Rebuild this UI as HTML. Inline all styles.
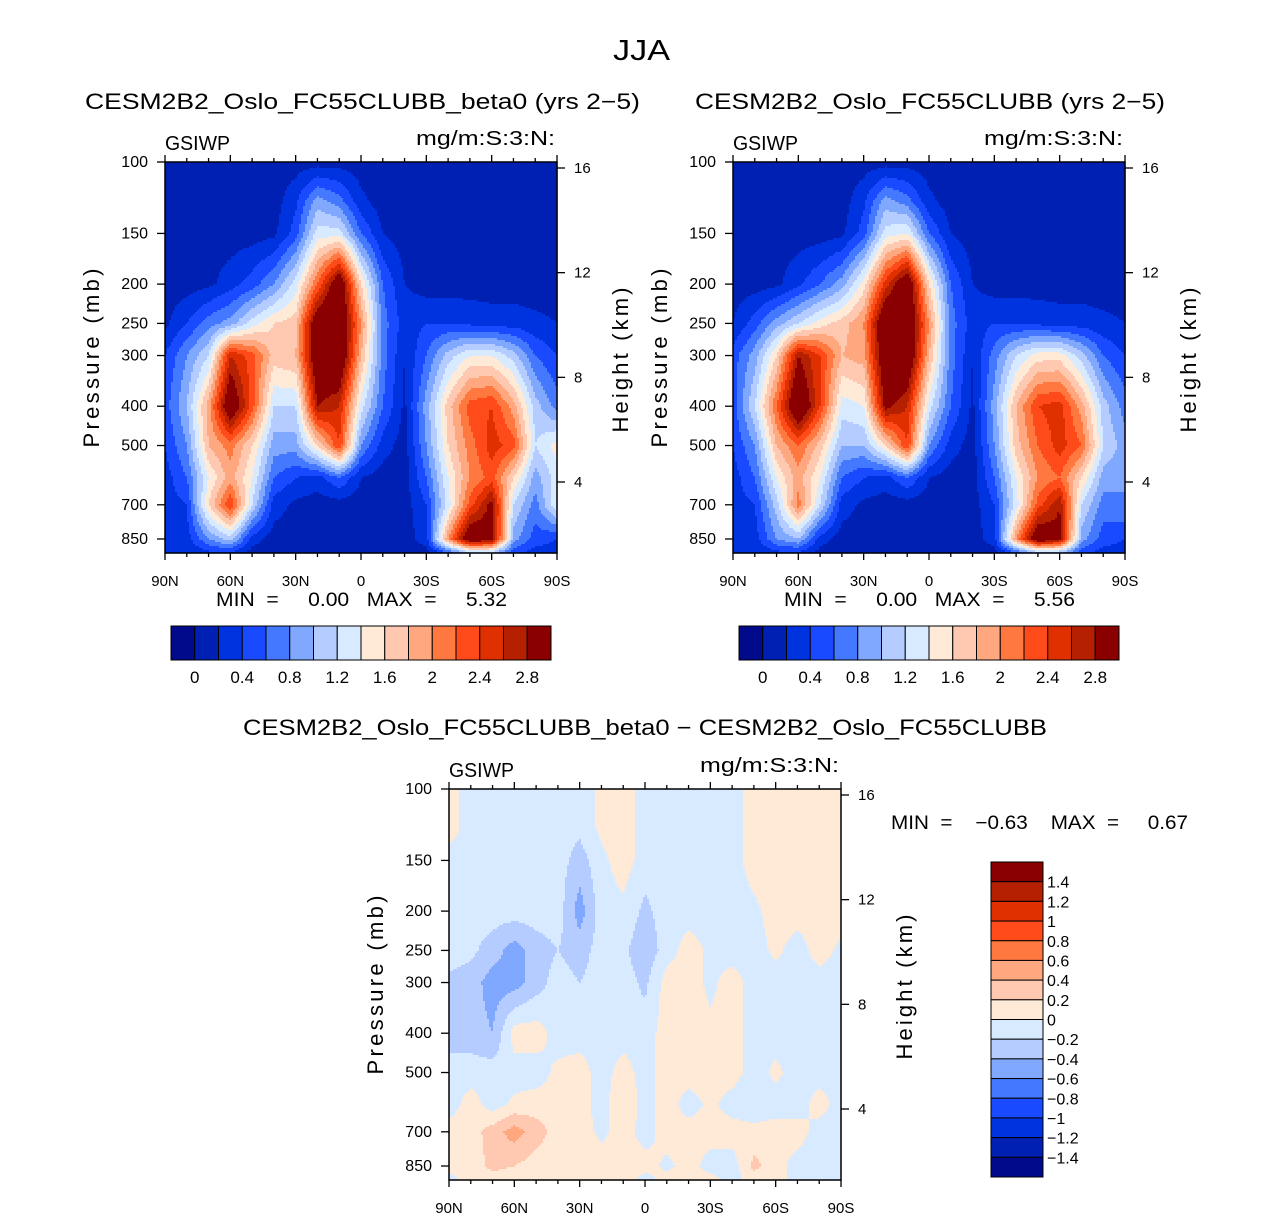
<!DOCTYPE html>
<html><head><meta charset="utf-8"><style>
body{margin:0;background:#fff;}
svg{display:block;font-family:"Liberation Sans",sans-serif;}
</style></head><body>
<svg id="fig" width="1285" height="1219" viewBox="0 0 1285 1219">
<text x="613" y="60" font-size="29" textLength="57" lengthAdjust="spacingAndGlyphs">JJA</text>
<g id="p1"></g>
<g id="p2"></g>
<g id="p3"></g>
</svg>
<script>
const LATS=[90,80,70,60,50,40,30,20,10,0,-10,-20,-30,-40,-50,-60,-70,-80,-90];
const PLEV=[100,125,150,200,250,300,400,500,600,700,850,925];
const FIELD1=[
[0.1,0.1,0.1,0.1,0.1,0.1,0.1,0.1,0.1,0.1,0.1,0.1,0.1,0.1,0.1,0.1,0.1,0.1,0.1],
[0.1,0.1,0.1,0.1,0.1,0.1,0.35,0.9,0.7,0.25,0.1,0.1,0.1,0.1,0.1,0.1,0.1,0.1,0.1],
[0.1,0.1,0.1,0.1,0.1,0.15,0.5,1.3,1.3,0.6,0.2,0.1,0.1,0.1,0.1,0.1,0.1,0.1,0.1],
[0.1,0.1,0.15,0.3,0.5,0.8,1.3,2.2,3.2,1.6,0.6,0.2,0.1,0.1,0.1,0.1,0.1,0.1,0.1],
[0.15,0.4,0.7,0.9,1.3,1.6,1.7,3.2,3.3,2.0,0.7,0.3,0.4,0.4,0.35,0.3,0.3,0.25,0.2],
[0.4,0.8,1.2,2.6,2.3,1.7,1.8,3.2,3.3,1.8,0.7,0.2,0.6,1.1,1.4,1.4,1.1,0.6,0.4],
[0.5,1.0,1.9,3.2,2.3,1.2,1.2,2.8,2.6,1.3,0.6,0.15,0.9,1.7,2.3,2.4,1.9,1.1,0.7],
[0.4,0.8,1.8,2.1,1.6,0.9,0.9,1.6,2.4,0.8,0.3,0.1,0.8,1.6,2.1,2.5,2.3,1.2,1.5],
[0.3,0.6,1.4,1.9,1.4,0.6,0.4,0.3,0.6,0.2,0.1,0.1,0.6,1.4,2.0,2.3,1.6,0.9,1.3],
[0.3,0.4,1.6,2.4,1.2,0.3,0.15,0.1,0.1,0.1,0.1,0.1,0.4,1.3,2.3,2.9,1.2,0.7,1.4],
[0.3,0.3,0.8,1.1,0.3,0.1,0.1,0.1,0.1,0.1,0.1,0.1,0.3,2.0,3.2,3.0,0.9,0.5,0.4],
[0.2,0.2,0.3,0.3,0.1,0.1,0.1,0.1,0.1,0.1,0.1,0.1,0.1,0.4,0.9,0.9,0.4,0.3,0.3]];
const FIELD2=[
[0.1,0.1,0.1,0.1,0.1,0.1,0.1,0.1,0.1,0.1,0.1,0.1,0.1,0.1,0.1,0.1,0.1,0.1,0.1],
[0.1,0.1,0.1,0.1,0.1,0.1,0.35,0.9,0.7,0.25,0.1,0.1,0.1,0.1,0.1,0.1,0.1,0.1,0.1],
[0.1,0.1,0.1,0.1,0.1,0.15,0.5,1.3,1.4,0.6,0.2,0.1,0.1,0.1,0.1,0.1,0.1,0.1,0.1],
[0.1,0.1,0.15,0.35,0.6,0.9,1.5,2.5,3.2,1.6,0.6,0.2,0.1,0.1,0.1,0.1,0.1,0.1,0.1],
[0.2,0.5,0.9,1.2,1.5,1.7,2.0,3.3,3.3,2.0,0.7,0.3,0.4,0.4,0.35,0.3,0.3,0.25,0.2],
[0.5,0.9,1.6,2.8,2.4,1.8,1.9,3.2,3.3,1.8,0.7,0.2,0.7,1.2,1.5,1.5,1.1,0.6,0.4],
[0.5,1.2,2.2,3.3,2.4,1.3,1.4,2.9,2.6,1.3,0.6,0.15,0.9,1.8,2.4,2.5,1.9,1.1,0.7],
[0.4,0.8,1.8,2.2,1.7,1.0,1.0,1.6,2.4,0.8,0.3,0.1,0.8,1.7,2.2,2.5,2.2,1.2,0.9],
[0.3,0.6,1.4,1.9,1.4,0.6,0.4,0.3,0.6,0.2,0.1,0.1,0.6,1.4,2.0,2.2,1.6,0.9,0.8],
[0.3,0.4,1.1,2.1,1.2,0.3,0.15,0.1,0.1,0.1,0.1,0.1,0.4,1.3,2.3,2.8,1.2,0.7,0.8],
[0.3,0.3,0.8,1.0,0.3,0.1,0.1,0.1,0.1,0.1,0.1,0.1,0.3,2.0,3.2,2.9,0.9,0.5,0.4],
[0.2,0.2,0.3,0.3,0.1,0.1,0.1,0.1,0.1,0.1,0.1,0.1,0.1,0.4,0.8,0.8,0.4,0.3,0.3]];
const FIELD3=[
[0.1,-0.1,-0.1,-0.1,-0.1,-0.1,-0.1,0.05,0.1,-0.1,-0.1,-0.1,-0.1,-0.1,0.1,0.1,0.1,0.1,0.1],
[0.1,-0.1,-0.1,-0.1,-0.1,-0.1,-0.15,0.05,0.1,-0.1,-0.1,-0.1,-0.1,-0.1,0.1,0.1,0.1,0.1,0.1],
[-0.1,-0.1,-0.1,-0.1,-0.1,-0.1,-0.3,-0.05,0.1,-0.1,-0.1,-0.1,-0.1,-0.1,0.1,0.1,0.1,0.1,0.1],
[-0.1,-0.1,-0.1,-0.1,-0.1,-0.1,-0.5,-0.1,-0.05,-0.25,-0.1,-0.1,-0.1,-0.1,-0.05,0.1,0.1,0.1,0.1],
[-0.1,-0.15,-0.3,-0.5,-0.3,-0.2,-0.3,-0.1,-0.15,-0.35,-0.1,0.1,-0.05,-0.1,-0.1,0.05,-0.1,0.1,-0.05],
[-0.25,-0.3,-0.5,-0.5,-0.3,-0.1,-0.2,-0.1,-0.1,-0.25,0.1,0.1,-0.05,0.1,-0.1,-0.1,-0.1,-0.1,-0.1],
[-0.3,-0.3,-0.4,0.1,0.1,-0.1,-0.1,-0.1,-0.1,-0.1,0.1,0.1,0.05,0.1,-0.1,-0.1,-0.1,-0.1,-0.1],
[-0.1,-0.1,-0.1,-0.1,-0.1,0.05,0.1,-0.1,0.1,-0.1,0.1,0.1,0.1,0.1,-0.1,0.05,-0.1,-0.1,-0.1],
[-0.1,0.1,-0.1,0.05,0.1,0.1,0.1,-0.1,0.2,-0.1,0.1,-0.1,0.05,-0.1,-0.2,-0.1,-0.1,0.1,-0.1],
[0.1,0.1,0.3,0.5,0.3,0.1,0.1,-0.05,0.1,-0.1,0.1,0.1,0.1,0.1,0.1,0.1,0.1,-0.1,-0.2],
[0.1,0.1,0.25,0.2,0.1,0.1,0.1,0.1,0.1,0.1,-0.05,0.1,-0.1,-0.1,0.25,0.1,-0.1,-0.1,-0.1],
[-0.1,0.1,0.1,0.1,0.1,0.1,0.1,0.1,0.1,-0.1,0.1,0.1,0.1,-0.1,0.1,0.1,-0.1,-0.1,-0.1]];
const COLORS=["#000a8a","#0020b4","#0033e0","#1a4aff","#4478ff","#80a8ff","#b4ccff","#d8eaff","#ffead8","#ffc8b0","#ffa880","#ff7840","#ff4a1a","#e03000","#b42000","#8a0000"];
const CB1_LABELS=["0","0.4","0.8","1.2","1.6","2","2.4","2.8"];
const CB3_LABELS=["1.4","1.2","1","0.8","0.6","0.4","0.2","0","\u22120.2","\u22120.4","\u22120.6","\u22120.8","\u22121","\u22121.2","\u22121.4"];
const XT=["90N","60N","30N","0","30S","60S","90S"];
const YT=[100,150,200,250,300,400,500,700,850];
const HT=[16,12,8,4];

const NS="http://www.w3.org/2000/svg";
function mk(parent,tag,attrs,text){const e=document.createElementNS(NS,tag);for(const k in attrs)e.setAttribute(k,attrs[k]);if(text!==undefined)e.textContent=text;parent.appendChild(e);return e;}
const W=392,H=391,K=377/Math.log(8.5);
function yOf(top,p){return top+K*Math.log(p/100);}
function xOf(left,lat){return left+(90-lat)/180*W;}
function sample(F,left,top,x,y){
  let fx=(x-left)/W*18; fx=Math.max(0,Math.min(17.9999,fx)); const i=Math.floor(fx),tx=fx-i;
  const p=100*Math.exp((y-top)/K); let j=0; while(j<PLEV.length-2&&PLEV[j+1]<p)j++;
  let ty=(Math.log(p)-Math.log(PLEV[j]))/(Math.log(PLEV[j+1])-Math.log(PLEV[j])); ty=Math.max(0,Math.min(1,ty));
  const a=F[j][i]*(1-tx)+F[j][i+1]*tx, b=F[j+1][i]*(1-tx)+F[j+1][i+1]*tx; return a*(1-ty)+b*ty;}
function idx1(v){return v<0?0:Math.min(15,Math.floor(v/0.2)+1);}
function idx3(v){return Math.max(0,Math.min(15,Math.floor((v+1.4)/0.2)+1));}

function panel(g,F,left,top,idxf,title,tx,tw){
  const cs=2;
  for(let y=top;y<top+H;y+=cs){
    let runStart=left,runC=-1;
    for(let x=left;x<=left+W;x+=cs){
      const c=x<left+W?idxf(sample(F,left,top,x+cs/2,y+cs/2)):-2;
      if(c!==runC){ if(runC>=0){const r=mk(g,"rect",{x:runStart,y:y,width:x-runStart+0.6,height:Math.min(cs,top+H-y)+0.6,fill:COLORS[runC]});
          
          }
        runStart=x;runC=c;}
    }
  }
  const fr=mk(g,"rect",{x:left,y:top,width:W,height:H,fill:"none",stroke:"#000","stroke-width":1.5});
  
  
  for(let lat=90;lat>=-90;lat-=10){const x=xOf(left,lat);const maj=lat%30===0;const L=maj?7:4;
    const t1=mk(g,"line",{x1:x,x2:x,y1:top,y2:top-L,stroke:"#000","stroke-width":1.3});
    
    
    const t2=mk(g,"line",{x1:x,x2:x,y1:top+H,y2:top+H+L,stroke:"#000","stroke-width":1.3});
    
    }
  XT.forEach((s,k)=>{const t=mk(g,"text",{x:left+k*W/6,y:top+H+33,"font-size":15,"text-anchor":"middle"},s);
    
    });
  YT.forEach(p=>{const y=yOf(top,p);
    const l=mk(g,"line",{x1:left,x2:left-8,y1:y,y2:y,stroke:"#000","stroke-width":1.3});
    
    
    const t=mk(g,"text",{x:left-17,y:y+5,"font-size":16,"text-anchor":"end"},String(p));
    
    });
  HT.forEach(h=>{const y=top+6+(16-h)*(314/12);
    const l=mk(g,"line",{x1:left+W,x2:left+W+8,y1:y,y2:y,stroke:"#000","stroke-width":1.3});
    
    
    const t=mk(g,"text",{x:left+W+17,y:y+5,"font-size":15},String(h));
    
    });
  const yl=mk(g,"text",{x:0,y:0,"font-size":22,"text-anchor":"middle",textLength:179,lengthAdjust:"spacing",transform:`translate(${left-66},${top+196}) rotate(-90)`},"Pressure  (mb)");
  
  
  const hl=mk(g,"text",{x:0,y:0,"font-size":22,"text-anchor":"middle",textLength:145,lengthAdjust:"spacing",transform:`translate(${left+W+71},${top+198}) rotate(-90)`},"Height  (km)");
  
  
  const lv=mk(g,"text",{x:left,y:top-12,"font-size":20,textLength:65,lengthAdjust:"spacingAndGlyphs"},"GSIWP");
  
  
  const un=mk(g,"text",{x:left+W-141,y:top-17,"font-size":20,textLength:139,lengthAdjust:"spacingAndGlyphs"},"mg/m:S:3:N:");
  
  
  if(title){const t=mk(g,"text",{x:tx,y:top-53,"font-size":22,textLength:tw,lengthAdjust:"spacingAndGlyphs"},title);
    
    }
}
function hbar(g,left,top,maxs,cx){
  const bw=380/16;
  COLORS.forEach((c,k)=>{const r=mk(g,"rect",{x:left+k*bw,y:top,width:bw,height:34,fill:c,stroke:"#000","stroke-width":1});
    
    });
  CB1_LABELS.forEach((s,k)=>{const t=mk(g,"text",{x:left+bw*(1+2*k),y:top+57,"font-size":17,"text-anchor":"middle"},s);
    
    });
  const m=mk(g,"text",{x:cx,y:top-20,"font-size":19,style:"white-space:pre",textLength:291,lengthAdjust:"spacingAndGlyphs"},maxs);
  
  
}
const g1=document.getElementById('p1'),g2=document.getElementById('p2'),g3=document.getElementById('p3');
panel(g1,FIELD1,165,162,idx1,"CESM2B2_Oslo_FC55CLUBB_beta0 (yrs 2\u22125)",85,555);
panel(g2,FIELD2,733,162,idx1,"CESM2B2_Oslo_FC55CLUBB (yrs 2\u22125)",695,470);
panel(g3,FIELD3,449,789,idx3,null,0,0);
hbar(g1,171,626,"MIN  =     0.00   MAX  =     5.32",216);
hbar(g2,739,626,"MIN  =     0.00   MAX  =     5.56",784);
const bt=mk(g3,"text",{x:243,y:735,"font-size":22,textLength:804,lengthAdjust:"spacingAndGlyphs"},"CESM2B2_Oslo_FC55CLUBB_beta0 \u2212 CESM2B2_Oslo_FC55CLUBB");


const mm=mk(g3,"text",{x:891,y:829,"font-size":19,style:"white-space:pre",textLength:297,lengthAdjust:"spacingAndGlyphs"},"MIN  =    \u22120.63    MAX  =     0.67");


const bh=315/16;
COLORS.slice().reverse().forEach((c,k)=>{const r=mk(g3,"rect",{x:991,y:862+k*bh,width:52,height:bh,fill:c,stroke:"#000","stroke-width":1});
  
  });
CB3_LABELS.forEach((s,k)=>{const t=mk(g3,"text",{x:1047,y:862+(k+1)*bh+6,"font-size":16},s);
  
  });
</script>
</body></html>
